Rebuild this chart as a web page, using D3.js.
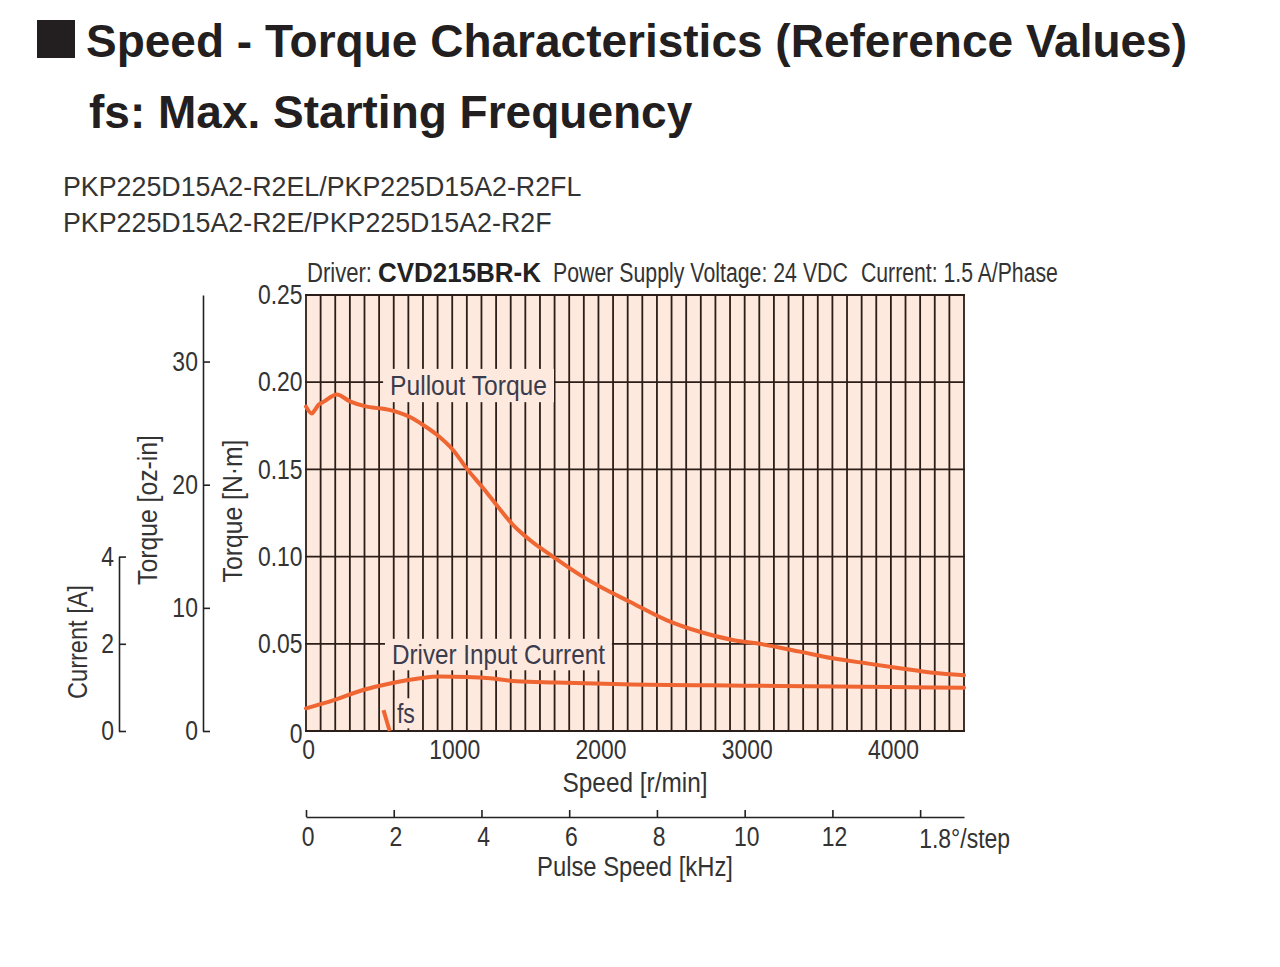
<!DOCTYPE html>
<html><head><meta charset="utf-8">
<script src="https://cdn.jsdelivr.net/npm/d3@7"></script>
<style>body{margin:0;background:#fff} svg{display:block}</style>
</head><body>
<svg id="c" width="1280" height="967"></svg>
<script>
// ---- data ----
const speedTicks = [0, 1000, 2000, 3000, 4000];
const torqueNmTicks = [0, 0.05, 0.10, 0.15, 0.20, 0.25];
const torqueOzInTicks = [0, 10, 20, 30];
const currentTicks = [0, 2, 4];
const pulseTicks = [0, 2, 4, 6, 8, 10, 12, 14];

const pulloutSpeed  = [0, 40, 60, 85, 125, 210, 300, 415, 506, 620, 711, 800, 893, 1007, 1098, 1212, 1303, 1417, 1531, 1690, 1873, 2032, 2214, 2465, 2693, 2919, 3080, 3377, 3602, 3832, 4061, 4286, 4500];
const pulloutTorque = [0.186, 0.182, 0.184, 0.187, 0.189, 0.193, 0.189, 0.186, 0.185, 0.183, 0.180, 0.1755, 0.170, 0.161, 0.1506, 0.1392, 0.1296, 0.1181, 0.1095, 0.0999, 0.0895, 0.0818, 0.0741, 0.0636, 0.0569, 0.0522, 0.0503, 0.0455, 0.0417, 0.0388, 0.0360, 0.0334, 0.0320];

const currentSpeed = [0, 190, 390, 575, 780, 915, 1100, 1260, 1440, 1710, 2170, 3000, 4000, 4500];
const currentValue = [0.52, 0.71, 0.94, 1.09, 1.21, 1.25, 1.24, 1.21, 1.14, 1.11, 1.07, 1.04, 1.01, 0.99];

const fsSpeed  = [530, 572];
const fsTorque = [0.012, 0.0];

const NM_TO_OZIN = 141.612;

// ---- setup ----
const svg = d3.select("#c");
const FONT = "'Liberation Sans', Arial, Helvetica, sans-serif";
const GRID = "#2b1d17";
const CURVE = "#ef6633";
const TXT = "#333";

const x = d3.scaleLinear([0, 4500], [306, 964]);
const y = d3.scaleLinear([0, 0.25], [731, 295]);
const yOz = d3.scaleLinear([0, 0.25 * NM_TO_OZIN], [731, 295]);
const yCur = d3.scaleLinear([0, 4], [731, y(0.10)]);
const xPulse = d3.scaleLinear([0, 15], [306, 964]);

// condensed text: scaled horizontally so its width equals `len`
function ctext(parent, o) {
  const g = parent.append("g");
  const t = g.append("text")
    .attr("font-family", FONT)
    .attr("font-size", o.size || 27)
    .attr("font-weight", o.weight || "normal")
    .attr("fill", o.fill || TXT)
    .attr("text-anchor", o.anchor || "start")
    .text(o.text);
  const w = t.node().getComputedTextLength();
  const sx = o.len ? o.len / w : 1;
  g.attr("transform", `translate(${o.x},${o.y})` + (o.rotate ? ` rotate(${o.rotate})` : "") + ` scale(${sx},1)`);
  return {g, t, sx};
}

// ---- titles ----
svg.append("rect").attr("x", 37).attr("y", 20).attr("width", 38).attr("height", 38).attr("fill", "#231f20");
svg.append("text").attr("x", 86).attr("y", 57).attr("font-family", FONT).attr("font-weight", "bold")
  .attr("font-size", 46).attr("fill", "#231f20").text("Speed - Torque Characteristics (Reference Values)");
svg.append("text").attr("x", 89).attr("y", 128).attr("font-family", FONT).attr("font-weight", "bold")
  .attr("font-size", 46).attr("fill", "#231f20").text("fs: Max. Starting Frequency");
svg.append("text").attr("x", 63).attr("y", 196).attr("font-family", FONT)
  .attr("font-size", 26.8).attr("fill", TXT).text("PKP225D15A2-R2EL/PKP225D15A2-R2FL");
svg.append("text").attr("x", 63).attr("y", 232).attr("font-family", FONT)
  .attr("font-size", 26.8).attr("fill", TXT).text("PKP225D15A2-R2E/PKP225D15A2-R2F");

// header
ctext(svg, {x: 307, y: 282, text: "Driver:", len: 65});
ctext(svg, {x: 378, y: 282, text: "CVD215BR-K", len: 163, weight: "bold", size: 28, fill: "#222"});
ctext(svg, {x: 553, y: 282, text: "Power Supply Voltage: 24 VDC", len: 295});
ctext(svg, {x: 861, y: 282, text: "Current: 1.5 A/Phase", len: 197});

// ---- plot background & grid ----
const plot = svg.append("g");
plot.append("rect")
  .attr("x", x(0)).attr("y", y(0.25))
  .attr("width", x(4500) - x(0)).attr("height", y(0) - y(0.25))
  .attr("fill", "#fde9dd");

plot.append("g").selectAll("line").data(d3.range(0, 4501, 100)).join("line")
  .attr("x1", d => x(d)).attr("x2", d => x(d))
  .attr("y1", y(0)).attr("y2", y(0.25))
  .attr("stroke", GRID).attr("stroke-width", 1.8);
plot.append("g").selectAll("line").data(torqueNmTicks).join("line")
  .attr("x1", x(0) - 1).attr("x2", x(4500) + 1)
  .attr("y1", d => y(d)).attr("y2", d => y(d))
  .attr("stroke", GRID).attr("stroke-width", 1.8);

// ---- in-plot labels with background ----
function plotLabel(text, sp, tq, len, pad) {
  const {g, t, sx} = ctext(plot, {x: x(sp), y: y(tq), text, len, fill: "#3b3b4e"});
  const bb = t.node().getBBox();
  g.insert("rect", "text")
    .attr("x", bb.x - pad[0] / sx).attr("y", bb.y - pad[1])
    .attr("width", bb.width + 2 * pad[0] / sx).attr("height", bb.height + 2 * pad[1])
    .attr("fill", "#fde9dd");
}
plotLabel("Pullout Torque", 575, 0.1927, 157, [7, 2]);
plotLabel("Driver Input Current", 588, 0.0384, 213, [7, 1]);
plotLabel("fs", 622, 0.0046, 18, [2, 0]);

// ---- curves ----
const lineT = d3.line().x(d => x(d[0])).y(d => y(d[1])).curve(d3.curveMonotoneX);
const lineC = d3.line().x(d => x(d[0])).y(d => yCur(d[1])).curve(d3.curveMonotoneX);

plot.append("path").datum(pulloutSpeed.map((s, i) => [s, pulloutTorque[i]]))
  .attr("d", lineT).attr("fill", "none").attr("stroke", CURVE).attr("stroke-width", 4)
  .attr("stroke-linejoin", "round").attr("stroke-linecap", "round");
plot.append("path").datum(currentSpeed.map((s, i) => [s, currentValue[i]]))
  .attr("d", lineC).attr("fill", "none").attr("stroke", CURVE).attr("stroke-width", 4)
  .attr("stroke-linejoin", "round").attr("stroke-linecap", "round");
plot.append("path").datum(fsSpeed.map((s, i) => [s, fsTorque[i]]))
  .attr("d", d3.line().x(d => x(d[0])).y(d => y(d[1])))
  .attr("fill", "none").attr("stroke", CURVE).attr("stroke-width", 4);

// ---- axes ----
function styleAxis(g, sx) {
  g.selectAll("text").attr("font-family", FONT).attr("font-size", 27).attr("fill", TXT)
    .attr("transform", `scale(${sx},1)`);
  g.selectAll("line").attr("stroke", "#222").attr("stroke-width", 1.6);
  g.selectAll(".domain").attr("stroke", "#222").attr("stroke-width", 1.6);
}
const fmtInt = d3.format("d");

// N·m axis
const gNm = svg.append("g").attr("transform", `translate(${x(0)},0)`)
  .call(d3.axisLeft(y).tickValues(torqueNmTicks).tickSize(0).tickPadding(4)
    .tickFormat(d => d === 0 ? "0" : d3.format(".2f")(d)));
gNm.select(".domain").remove();
styleAxis(gNm, 0.85);
gNm.selectAll(".tick").filter(d => d === 0).select("text").attr("dy", "0.42em");

// oz-in axis
const gOz = svg.append("g").attr("transform", "translate(203,0)")
  .call(d3.axisLeft(yOz).tickValues(torqueOzInTicks).tickSizeInner(-7).tickSizeOuter(0).tickPadding(6)
    .tickFormat(fmtInt));
styleAxis(gOz, 0.85);

// current axis
const gCur = svg.append("g").attr("transform", "translate(119,0)")
  .call(d3.axisLeft(yCur).tickValues(currentTicks).tickSizeInner(-7).tickSizeOuter(0).tickPadding(6)
    .tickFormat(fmtInt));
styleAxis(gCur, 0.85);

// speed axis
const gSp = svg.append("g").attr("transform", `translate(0,${y(0)})`)
  .call(d3.axisBottom(x).tickValues(speedTicks).tickSize(0).tickPadding(9).tickFormat(fmtInt));
gSp.select(".domain").remove();
styleAxis(gSp, 0.85);
gSp.selectAll(".tick text").attr("x", 2.5);

// pulse axis
const gPu = svg.append("g").attr("transform", "translate(0,817)")
  .call(d3.axisBottom(xPulse).tickValues(pulseTicks).tickSizeInner(-7).tickSizeOuter(0).tickPadding(10)
    .tickFormat(d => d === 14 ? "" : fmtInt(d)));
styleAxis(gPu, 0.85);
gPu.selectAll(".tick text").attr("x", 2);

// ---- axis titles ----
ctext(svg, {x: 635, y: 792, text: "Speed [r/min]", len: 145, anchor: "middle"});
ctext(svg, {x: 635, y: 876, text: "Pulse Speed [kHz]", len: 196, anchor: "middle"});
ctext(svg, {x: xPulse(14) - 1, y: 848, text: "1.8°/step", len: 91});
ctext(svg, {x: 87, y: 642, text: "Current [A]", len: 114, anchor: "middle", rotate: -90});
ctext(svg, {x: 157, y: 510, text: "Torque [oz-in]", len: 150, anchor: "middle", rotate: -90});
ctext(svg, {x: 242, y: 511, text: "Torque [N·m]", len: 143, anchor: "middle", rotate: -90});
</script>
</body></html>
